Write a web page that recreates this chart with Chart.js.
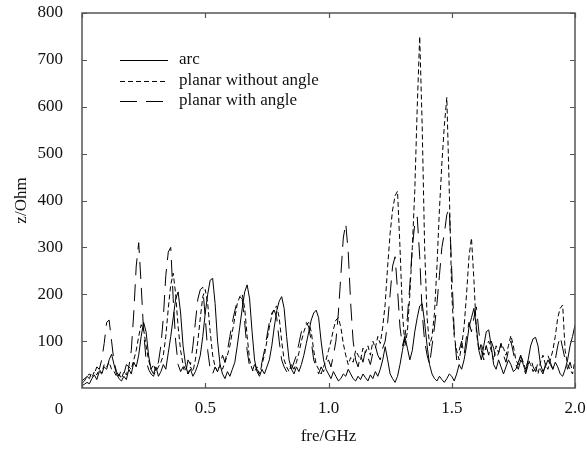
<!DOCTYPE html>
<html>
<head>
<meta charset="utf-8">
<script src="https://cdn.jsdelivr.net/npm/chart.js@4.4.1/dist/chart.umd.min.js"></script>
<style>
html, body { margin: 0; padding: 0; background: #fff; }
#wrap { width: 587px; height: 455px; }
</style>
</head>
<body>
<div id="wrap"><canvas id="chartImpedance" width="587" height="455"></canvas></div>
<script>
// impedance vs frequency, sampled every 0.01 GHz from 0 to 2.0
var freqStep = 0.01;

var arcZ = [
	5, 8, 12, 9, 20, 28, 18, 35, 30, 45,
	40, 60, 72, 50, 30, 20, 15, 25, 18, 40,
	30, 55, 45, 70, 110, 140, 120, 70, 40, 30,
	45, 25, 35, 50, 40, 75, 110, 150, 190, 205,
	160, 90, 50, 30, 40, 25, 35, 50, 70, 110,
	160, 200, 230, 234, 180, 100, 50, 30, 20, 35,
	25, 40, 55, 90, 130, 170, 205, 220, 190, 120,
	60, 35, 25, 40, 30, 45, 60, 90, 130, 165,
	185, 195, 170, 110, 60, 40, 30, 45, 35, 50,
	70, 95, 120, 145, 160, 166, 150, 100, 60, 40,
	30, 20, 35, 25, 15, 20, 30, 25, 40, 30,
	20, 15, 25, 18, 30, 22, 15, 28, 20, 35,
	25, 40, 60, 88, 60, 30, 20, 12, 25, 50,
	80, 110, 85, 60, 80, 120, 150, 175, 180, 140,
	90, 50, 30, 20, 15, 25, 18, 12, 20, 30,
	25, 15, 30, 50, 40, 60, 90, 130, 150, 170,
	130, 80, 60, 90, 120, 124, 90, 50, 40, 60,
	45, 30, 45, 60, 50, 35, 40, 55, 70, 50,
	35, 60, 90, 105, 108, 90, 50, 35, 45, 60,
	50, 40, 55, 45, 30, 25, 40, 60, 90, 110,
	134
];

var planarNoAngleZ = [
	15, 20, 25, 30, 22, 35, 28, 40, 32, 50,
	45, 55, 40, 35, 25, 30, 20, 35, 28, 45,
	40, 60, 80, 110, 135, 125, 90, 60, 40, 50,
	35, 45, 55, 70, 110, 170, 220, 245, 200, 130,
	80, 50, 40, 30, 45, 35, 60, 100, 150, 195,
	210, 180, 120, 70, 45, 35, 50, 40, 55, 70,
	90, 120, 150, 180, 195, 200, 170, 110, 60, 40,
	35, 45, 30, 50, 70, 100, 130, 155, 170, 175,
	150, 100, 60, 45, 35, 50, 40, 55, 75, 100,
	120, 135, 140, 120, 80, 50, 40, 30, 45, 60,
	80, 100, 125, 145, 150, 130, 95, 70, 50, 65,
	55, 80, 70, 60, 85, 75, 90, 70, 100, 85,
	110, 95, 130, 180, 260, 330, 380, 410, 420, 300,
	160, 90, 120, 200, 300, 420, 600, 750, 560, 300,
	150, 90, 110, 160, 260, 380, 480, 560, 620, 420,
	200, 110, 80, 60, 90, 130, 200, 280, 320, 230,
	120, 80, 95, 70, 90, 100, 80, 60, 90, 75,
	95, 85, 70, 90, 112, 90, 60, 50, 70, 55,
	40, 60, 50, 35, 45, 30, 55, 70, 50, 40,
	60, 80, 110, 150, 170, 177, 80, 50, 40, 30,
	60
];

var planarAngleZ = [
	10, 15, 25, 20, 35, 30, 45, 40, 60, 95,
	140, 145, 100, 55, 35, 25, 40, 30, 50, 45,
	80, 160, 260, 310, 220, 120, 60, 40, 30, 25,
	40, 55, 90, 150, 240, 290, 300, 190, 100, 50,
	35, 45, 30, 60, 50, 90, 140, 190, 210, 215,
	150, 80, 40, 30, 45, 35, 50, 70, 55, 80,
	110, 140, 165, 185, 195, 190, 140, 80, 45, 35,
	50, 40, 30, 55, 80, 110, 140, 160, 166, 150,
	100, 60, 45, 35, 50, 40, 55, 70, 95, 120,
	135, 140, 130, 100, 60, 45, 30, 45, 35, 50,
	60, 45, 70, 100, 160, 240, 320, 351, 290, 180,
	100, 60, 45, 70, 55, 80, 65, 50, 75, 90,
	70, 60, 85, 100, 140, 200, 260, 280, 210, 130,
	90, 110, 150, 220, 300, 350, 365, 280, 160, 100,
	70, 50, 90, 130, 180, 240, 300, 330, 370, 383,
	250, 120, 60, 80, 100, 70, 110, 140, 120, 150,
	173, 120, 80, 60, 90, 70, 100, 85, 60, 75,
	95, 70, 55, 80, 100, 75, 50, 40, 60, 45,
	30, 50, 65, 45, 35, 55, 40, 30, 50, 70,
	55, 40, 60, 90, 110, 85, 60, 40, 55, 35,
	50
];

var seriesNames = ["arc", "planar without angle", "planar with angle"];
var seriesDash = [[], [5, 3], [17, 9]];
var xTicks = [0, 0.5, 1.0, 1.5, 2.0];
var yTicks = [100, 200, 300, 400, 500, 600, 700, 800];

var freq = arcZ.map(function(v, i) { return +(i * freqStep).toFixed(2); });

function toPoints(values) {
	return values.map(function(v, i) { return { x: freq[i], y: v }; });
}

Chart.defaults.font.family = "'Liberation Serif', 'DejaVu Serif', serif";
Chart.defaults.font.size = 17;
Chart.defaults.color = "#111";

// box with inward tick marks, like the original plot frame
var framePlugin = {
	id: "frame",
	afterDatasetsDraw: function(chart) {
		var ctx = chart.ctx, a = chart.chartArea;
		var xs = chart.scales.x, ys = chart.scales.y;
		var tl = 5;
		ctx.save();
		ctx.strokeStyle = "#555";
		ctx.lineWidth = 1.5;
		ctx.strokeRect(a.left, a.top, a.right - a.left, a.bottom - a.top);
		ctx.lineWidth = 1.2;
		ctx.beginPath();
		xTicks.forEach(function(t) {
			var px = Math.round(xs.getPixelForValue(t)) + 0.5;
			ctx.moveTo(px, a.top); ctx.lineTo(px, a.top + tl);
			ctx.moveTo(px, a.bottom); ctx.lineTo(px, a.bottom - tl);
		});
		yTicks.forEach(function(t) {
			var py = Math.round(ys.getPixelForValue(t)) + 0.5;
			ctx.moveTo(a.left, py); ctx.lineTo(a.left + tl, py);
			ctx.moveTo(a.right, py); ctx.lineTo(a.right - tl, py);
		});
		ctx.stroke();
		// the shared origin label sits left of the box
		ctx.fillStyle = "#111";
		ctx.font = "17px 'Liberation Serif'";
		ctx.textAlign = "center";
		ctx.textBaseline = "middle";
		ctx.fillText("0", 59, 410);
		ctx.restore();
	}
};

var legendPlugin = {
	id: "insideLegend",
	afterDraw: function(chart) {
		var ctx = chart.ctx;
		var rows = [60, 81, 101];
		ctx.save();
		ctx.font = "17px 'Liberation Serif'";
		ctx.textBaseline = "middle";
		ctx.fillStyle = "#111";
		chart.data.datasets.forEach(function(ds, i) {
			ctx.strokeStyle = ds.borderColor;
			ctx.lineWidth = 1.2;
			ctx.setLineDash(ds.borderDash);
			ctx.beginPath();
			ctx.moveTo(120, rows[i] + 0.5);
			ctx.lineTo(168, rows[i] + 0.5);
			ctx.stroke();
			ctx.setLineDash([]);
			ctx.fillText(ds.label, 179, rows[i]);
		});
		ctx.restore();
	}
};

// keep the plot box exactly where the original has it
function noOverflowPad(s) {
	s.paddingLeft = 0;
	s.paddingRight = 0;
	s.paddingTop = 0;
	s.paddingBottom = 0;
}

var impedance = {};

impedance.datasets = function() {
	var all = [arcZ, planarNoAngleZ, planarAngleZ];
	return all.map(function(vals, i) {
		return {
			label: seriesNames[i],
			data: toPoints(vals),
			borderColor: "#000",
			borderWidth: 1,
			borderDash: seriesDash[i],
			pointRadius: 0,
			tension: 0,
			fill: false
		};
	});
};

function Init() {
	impedance.Chart = new Chart(document.getElementById("chartImpedance").getContext("2d"), {
		type: "line",
		data: { datasets: impedance.datasets() },
		plugins: [framePlugin, legendPlugin],
		options: {
			responsive: false,
			animation: false,
			layout: { padding: { top: 13, right: 12, left: 0, bottom: 0 } },
			plugins: { legend: { display: false }, tooltip: { enabled: false } },
			scales: {
				x: {
					type: "linear",
					min: 0,
					max: 2,
					grid: { display: false, drawTicks: false },
					border: { display: false },
					afterBuildTicks: function(s) { s.ticks = xTicks.map(function(v) { return { value: v }; }); },
					afterFit: function(s) { s.height = 67; noOverflowPad(s); },
					ticks: {
						padding: 10,
						maxRotation: 0,
						callback: function(v) { return v === 0 ? "" : v.toFixed(1); }
					},
					title: { display: true, text: "fre/GHz", padding: { top: 0, bottom: 8 } }
				},
				y: {
					min: 0,
					max: 800,
					grid: { display: false, drawTicks: false },
					border: { display: false },
					afterBuildTicks: function(s) { s.ticks = yTicks.map(function(v) { return { value: v }; }); },
					afterFit: function(s) { s.width = 82; noOverflowPad(s); },
					ticks: { padding: 19 },
					title: { display: true, text: "z/Ohm", padding: { top: 11, bottom: 0 } }
				}
			}
		}
	});
}

Init();
</script>
</body>
</html>
